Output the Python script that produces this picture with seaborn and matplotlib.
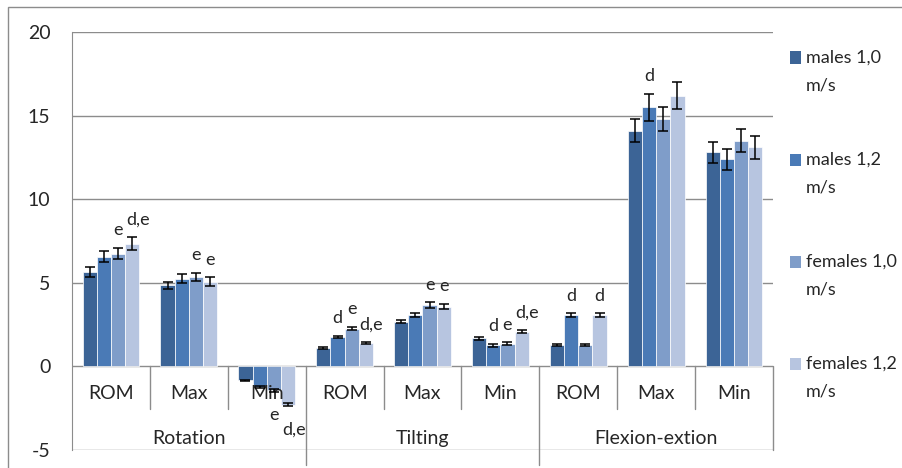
import numpy as np
import pandas as pd
import matplotlib.pyplot as plt
import seaborn as sns
from matplotlib.patches import Rectangle

groups = ["Rotation", "Tilting", "Flexion-extion"]
measures = ["ROM", "Max", "Min"]
series = ["males 1,0 m/s", "males 1,2 m/s", "females 1,0 m/s", "females 1,2 m/s"]

males_10 = [5.65, 4.85, -0.84, 1.08, 2.68, 1.68, 1.28, 14.1, 12.8]
males_12 = [6.55, 5.25, -1.24, 1.76, 3.05, 1.26, 3.06, 15.5, 12.4]
females_10 = [6.75, 5.35, -1.44, 2.26, 3.65, 1.36, 1.28, 14.8, 13.5]
females_12 = [7.35, 5.07, -2.29, 1.38, 3.57, 2.08, 3.06, 16.2, 13.1]

err_m10 = [0.28, 0.22, 0.05, 0.06, 0.10, 0.08, 0.06, 0.70, 0.65]
err_m12 = [0.33, 0.25, 0.06, 0.08, 0.12, 0.07, 0.12, 0.80, 0.63]
err_f10 = [0.33, 0.25, 0.07, 0.09, 0.18, 0.07, 0.06, 0.74, 0.68]
err_f12 = [0.38, 0.25, 0.10, 0.06, 0.15, 0.08, 0.12, 0.80, 0.70]

sig_m10 = ["", "", "", "", "", "", "", "", ""]
sig_m12 = ["", "", "", "d", "", "d", "d", "d", ""]
sig_f10 = ["e", "e", "e", "e", "e", "e", "", "", ""]
sig_f12 = ["d,e", "e", "d,e", "d,e", "e", "d,e", "d", "", ""]

colors = ["#3c6496", "#4a7ab6", "#7f9dc9", "#b7c5e0"]
font = ["Lato", "DejaVu Sans"]
fs = 14
fs_small = 13

# ------------------------------------------------------------
cats = [g + " " + m for g in groups for m in measures]
values = [males_10, males_12, females_10, females_12]
errors = [err_m10, err_m12, err_f10, err_f12]
signs = [sig_m10, sig_m12, sig_f10, sig_f12]

df = pd.DataFrame({
    "cat": cats * 4,
    "series": [s for s in series for _ in cats],
    "value": sum(values, []),
})

sns.set_style("white")
plt.rcParams["font.family"] = font
plt.rcParams["axes.unicode_minus"] = False

fig = plt.figure(figsize=(9.03, 4.68), dpi=100)
ax = fig.add_axes([72 / 903, 18 / 468, 701 / 903, 418 / 468])

sns.barplot(data=df, x="cat", y="value", hue="series", order=cats,
            hue_order=series, palette=colors, width=0.73, errorbar=None,
            saturation=1, edgecolor="white", linewidth=0.5, legend=False,
            ax=ax, zorder=3)

for cont, vals, errs, sg in zip(ax.containers, values, errors, signs):
    xs = [b.get_x() + b.get_width() / 2 for b in cont]
    ax.errorbar(xs, vals, yerr=errs, fmt="none", ecolor="black",
                elinewidth=1.1, capsize=3.5, capthick=1.1, zorder=4)
    for x, v, e, s in zip(xs, vals, errs, sg):
        if not s:
            continue
        dx = 4 if s == "d,e" else 0
        if v >= 0:
            ax.annotate(s, (x, v + e), xytext=(dx, 7), textcoords="offset points",
                        ha="center", va="bottom", fontsize=fs_small, zorder=5)
        else:
            ax.annotate(s, (x, v - e), xytext=(dx, -11), textcoords="offset points",
                        ha="center", va="top", fontsize=fs_small, zorder=5)

ax.set_xlim(-0.5, 8.5)
ax.set_ylim(-5, 20)
ax.set_yticks([-5, 0, 5, 10, 15, 20])
ax.set_xticks([])
ax.set_xlabel("")
ax.set_ylabel("")
ax.yaxis.grid(True, color="#8c8c8c", linewidth=1)
ax.set_axisbelow(True)
for side in ["top", "right", "bottom"]:
    ax.spines[side].set_visible(False)
ax.spines["left"].set_color("#8c8c8c")
ax.tick_params(axis="y", direction="out", length=6, color="#8c8c8c",
               labelsize=fs, pad=9.5)

# two-level category axis
gray = "#8c8c8c"
for i, c in enumerate(cats):
    ax.text(i, -1.6, measures[i % 3], ha="center", va="center", fontsize=fs,
            zorder=3.5)
for k, g in enumerate(groups):
    ax.text(3 * k + 1, -4.3, g, ha="center", va="center", fontsize=fs)
for x in [0.5, 1.5, 3.5, 4.5, 6.5, 7.5]:
    ax.plot([x, x], [0, -2.55], color=gray, lw=1, clip_on=False, zorder=1)
for x in [2.5, 5.5]:
    ax.plot([x, x], [0, -5.9], color=gray, lw=1, clip_on=False, zorder=1)
ax.plot([8.5, 8.5], [0, -5], color=gray, lw=1, clip_on=False, zorder=1)

# legend
for i, (s, col) in enumerate(zip(series, colors)):
    yc = 468 - (57.5 + 102 * i)
    fig.patches.append(Rectangle((790 / 903, (yc - 6) / 468), 11.5 / 903, 12 / 468,
                                 transform=fig.transFigure, facecolor=col,
                                 edgecolor="none"))
    name, unit = s.rsplit(" ", 1)
    fig.text(806 / 903, yc / 468, name, ha="left", va="center", fontsize=fs_small)
    fig.text(806 / 903, (yc - 28) / 468, unit, ha="left", va="center",
             fontsize=fs_small)

# outer chart border
fig.patches.append(Rectangle((8 / 903, -0.1), 1.2, 1.1 - 7 / 468 + 0.001,
                             transform=fig.transFigure, fill=False,
                             edgecolor="#8c8c8c", linewidth=1))

fig.savefig("out.png", dpi=100)
